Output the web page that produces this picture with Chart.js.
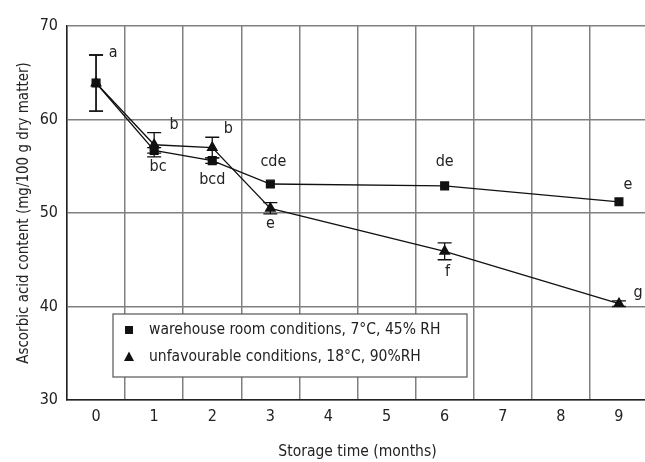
<!DOCTYPE html>
<html lang="en">

<head>
  <meta charset="UTF-8">
  <title>Ascorbic acid content</title>
  <style>
    html, body {
      margin: 0;
      padding: 0;
      background: #fff;
      overflow: hidden;
    }

    #chartBox {
      width: 660px;
      height: 462px;
    }
  </style>
  <script src="https://cdn.jsdelivr.net/npm/chart.js"></script>
</head>

<body>
  <div id="chartBox">
    <canvas id="chart" width="660" height="462"></canvas>
  </div>

  <script>
    // data
    const months = ['0', '1', '2', '3', '4', '5', '6', '7', '8', '9'];
    const warehouse = [63.9, 56.7, 55.6, 53.1, null, null, 52.9, null, null, 51.2];
    const warehouseErr = [3.0, 0.3, 0.3, null, null, null, null, null, null, null];
    const unfavourable = [63.9, 57.3, 57.0, 50.5, null, null, 45.9, null, null, 40.3];
    const unfavourableErr = [3.0, 1.3, 1.1, 0.6, null, null, 0.9, null, null, 0.3];
    const warehouseLetters = ['', 'bc', 'bcd', 'cde', '', '', 'de', '', '', 'e'];
    const unfavourableLetters = ['a', 'b', 'b', 'e', '', '', 'f', '', '', 'g'];
    const yTicks = [30, 40, 50, 60, 70];

    const FONT = "'Liberation Sans Narrow', 'DejaVu Sans Condensed', Arial, sans-serif";

    // where each letter sits relative to its point (px)
    const warehouseLetterOffset = [null, [4, 16], [0, 19], [3, -22], null, null, [0, -24], null, null, [9, -17]];
    const unfavourableLetterOffset = [[17, -30], [20, -20], [16, -19], [0, 16], null, null, [3, 21], null, null, [19, -11]];

    function drawMarker(ctx, style, x, y) {
      ctx.beginPath();
      if (style === 'rect') {
        ctx.rect(x - 4, y - 4, 8, 8);
      } else {
        ctx.moveTo(x, y - 5.5);
        ctx.lineTo(x + 5, y + 4);
        ctx.lineTo(x - 5, y + 4);
        ctx.closePath();
      }
      ctx.fill();
    }

    const extras = {
      id: 'extras',
      beforeDatasetsDraw(chart) {
        // error bars
        const ctx = chart.ctx;
        const xs = chart.scales.x, ys = chart.scales.y;
        const sets = [[warehouse, warehouseErr], [unfavourable, unfavourableErr]];
        ctx.save();
        ctx.strokeStyle = '#111';
        ctx.lineWidth = 1.3;
        sets.forEach(([vals, errs]) => {
          vals.forEach((v, i) => {
            if (v == null || errs[i] == null) return;
            const px = xs.getPixelForValue(i);
            const top = ys.getPixelForValue(v + errs[i]);
            const bot = ys.getPixelForValue(v - errs[i]);
            ctx.beginPath();
            ctx.moveTo(px, top); ctx.lineTo(px, bot);
            ctx.moveTo(px - 7, top); ctx.lineTo(px + 7, top);
            ctx.moveTo(px - 7, bot); ctx.lineTo(px + 7, bot);
            ctx.stroke();
          });
        });
        ctx.restore();
      },
      afterDatasetsDraw(chart) {
        const ctx = chart.ctx;
        const xs = chart.scales.x, ys = chart.scales.y;
        ctx.save();
        ctx.fillStyle = '#222';
        ctx.font = '16px ' + FONT;
        ctx.textAlign = 'center';
        ctx.textBaseline = 'middle';
        const groups = [
          [warehouse, warehouseLetters, warehouseLetterOffset],
          [unfavourable, unfavourableLetters, unfavourableLetterOffset]
        ];
        groups.forEach(([vals, letters, offs]) => {
          letters.forEach((t, i) => {
            if (!t || vals[i] == null) return;
            const px = xs.getPixelForValue(i) + offs[i][0];
            const py = ys.getPixelForValue(vals[i]) + offs[i][1];
            ctx.fillText(t, px, py);
          });
        });

        // legend box inside the plot
        const lx = 113, ly = 314, lw = 354, lh = 63;
        ctx.fillStyle = '#fff';
        ctx.fillRect(lx, ly, lw, lh);
        ctx.strokeStyle = '#555';
        ctx.lineWidth = 1.2;
        ctx.strokeRect(lx, ly, lw, lh);
        ctx.font = '15.5px ' + FONT;
        ctx.textAlign = 'left';
        chart.data.datasets.forEach((ds, k) => {
          const ry = ly + 16 + k * 27;
          ctx.fillStyle = '#111';
          drawMarker(ctx, ds.pointStyle, lx + 16, ry);
          ctx.fillStyle = '#222';
          ctx.fillText(ds.label, lx + 36, ry);
        });
        ctx.restore();
      }
    };

    new Chart(document.getElementById('chart'), {
      type: 'line',
      data: {
        labels: months,
        datasets: [{
          label: 'warehouse room conditions, 7°C, 45% RH',
          data: warehouse,
          pointStyle: 'rect',
          pointRadius: 5.5,
          borderColor: '#111',
          backgroundColor: '#111',
          borderWidth: 1.3,
          spanGaps: true
        }, {
          label: 'unfavourable conditions, 18°C, 90%RH',
          data: unfavourable,
          pointStyle: 'triangle',
          pointRadius: 5.5,
          borderColor: '#111',
          backgroundColor: '#111',
          borderWidth: 1.3,
          spanGaps: true
        }]
      },
      options: {
        responsive: false,
        animation: false,
        layout: { padding: { top: 26, right: 12, left: 0, bottom: 0 } },
        plugins: {
          legend: { display: false },
          tooltip: { enabled: false }
        },
        scales: {
          x: {
            offset: true,
            afterFit: (s) => { s.height = 62; },
            grid: { offset: true, color: '#808080', lineWidth: 1.5, drawTicks: false },
            border: { color: '#222', width: 1.5 },
            ticks: { color: '#222', padding: 7, font: { family: FONT, size: 16 } },
            title: {
              display: true,
              text: 'Storage time (months)',
              color: '#222',
              font: { family: FONT, size: 15.5 },
              padding: { top: 0, bottom: 1 }
            }
          },
          y: {
            min: 30,
            max: 70,
            afterFit: (s) => { s.width = 67; },
            afterBuildTicks: (s) => { s.ticks = yTicks.map(v => ({ value: v })); },
            grid: { color: '#808080', lineWidth: 1.5, drawTicks: false },
            border: { color: '#222', width: 1.5 },
            ticks: { color: '#222', padding: 9, font: { family: FONT, size: 16 } },
            title: {
              display: true,
              text: 'Ascorbic acid content (mg/100 g dry matter)',
              color: '#222',
              font: { family: FONT, size: 15 },
              padding: { top: 15, bottom: 0 }
            }
          }
        }
      },
      plugins: [extras]
    });
  </script>
</body>

</html>
